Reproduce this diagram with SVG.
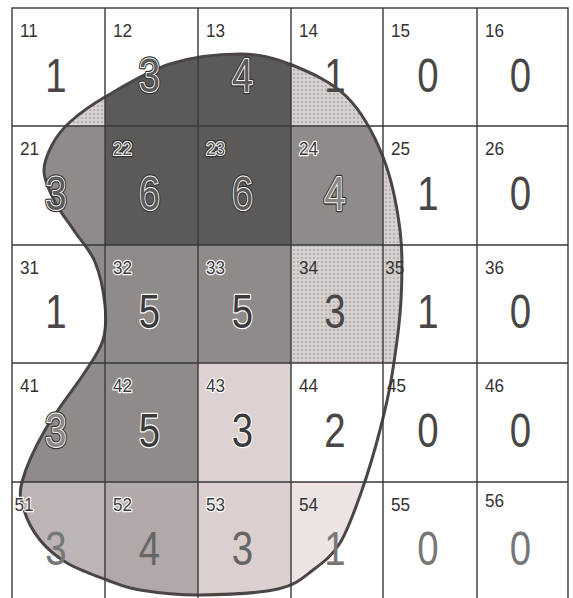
<svg xmlns="http://www.w3.org/2000/svg" width="573" height="598" viewBox="0 0 573 598">
<defs>
<style>
.cell{fill:none;stroke:#3a3838;stroke-width:1.4}
.id{font-family:"Liberation Sans",Arial,sans-serif;font-size:19px;fill:#333}
.v{font-family:"Liberation Sans",Arial,sans-serif;font-size:48px;fill:#484646;text-anchor:middle}
.halo{fill:#3c3a3a;stroke:#fff;stroke-width:2.4;paint-order:stroke;stroke-linejoin:round}
.hb{fill:none;stroke:#333;stroke-width:4.6;stroke-linejoin:round}
.hf{fill:#5c5a5a;stroke:#fff;stroke-width:2;paint-order:stroke;stroke-linejoin:round}
.blob{fill:none;stroke:#4a4646;stroke-width:3}
</style>
<pattern id="dots" patternUnits="userSpaceOnUse" width="4" height="4">
<rect width="4" height="4" fill="#d8d4d3"/>
<circle cx="2" cy="2" r="1.3" fill="#b9b4b3"/>
</pattern>
<clipPath id="blobclip">
<path id="blobpath" d="M240 54 C260.3 54.2 274.2 57.8 292 65 C309.8 72.2 331.8 81.7 347 97 C362.2 112.3 374.2 134.8 383 157 C391.8 179.2 397 206.2 400 230 C403 253.8 402.3 275.8 401 300 C399.7 324.2 395.5 353.3 392 375 C388.5 396.7 385 410.8 380 430 C375 449.2 368.7 471.2 362 490 C355.3 508.8 348.2 529.7 340 543 C331.8 556.3 323.3 562.3 313 570 C302.7 577.7 296.8 584.8 278 589 C259.2 593.2 223 594.8 200 595 C177 595.2 155.5 592.5 140 590 C124.5 587.5 119.2 584.5 107 580 C94.8 575.5 78.2 569.7 67 563 C55.8 556.3 47.2 548.8 40 540 C32.8 531.2 27 519.7 24 510 C21 500.3 18.5 495.3 22 482 C25.5 468.7 34.5 448.3 45 430 C55.5 411.7 75.3 387 85 372 C94.7 357 99.7 351.2 103 340 C106.3 328.8 106.3 318 105 305 C103.7 292 100 274.2 95 262 C90 249.8 81.7 242 75 232 C68.3 222 60.2 212 55 202 C49.8 192 44.5 181.5 44 172 C43.5 162.5 47.7 153.3 52 145 C56.3 136.7 61.2 130 70 122 C78.8 114 88.3 106.7 105 97 C121.7 87.3 147.5 71.2 170 64 C192.5 56.8 219.7 54 240 54 Z"/>
</clipPath>
</defs>
<rect width="573" height="598" fill="#fff"/>
<g id="shading" clip-path="url(#blobclip)">
<rect x="12" y="8" width="93" height="118" fill="url(#dots)"/>
<rect x="105" y="8" width="186" height="237" fill="#5c5a59"/>
<rect x="291" y="8" width="92" height="118" fill="url(#dots)"/>
<rect x="12" y="126" width="93" height="119" fill="#8e8b8a"/>
<rect x="291" y="126" width="92" height="119" fill="#8e8b8a"/>
<rect x="383" y="126" width="94" height="119" fill="url(#dots)"/>
<rect x="12" y="245" width="279" height="118" fill="#8e8b8a"/>
<rect x="291" y="245" width="186" height="118" fill="url(#dots)"/>
<rect x="12" y="363" width="186" height="119" fill="#8e8b8a"/>
<rect x="198" y="363" width="93" height="119" fill="#ddd1d1"/>
<rect x="12" y="482" width="93" height="118" fill="#bdb5b5"/>
<rect x="105" y="482" width="93" height="118" fill="#b1a9a9"/>
<rect x="198" y="482" width="93" height="118" fill="#dccfcf"/>
<rect x="291" y="482" width="92" height="118" fill="#ede3e3"/>
</g>
<g id="connectors">
<use href="#blobpath" class="blob"/>
</g>
<g id="grid">
<rect class="cell" x="12" y="8" width="556" height="600"/>
<path class="cell" d="M105 8V598M198 8V598M291 8V598M383 8V598M477 8V598M12 126H568M12 245H568M12 363H568M12 482H568"/>
</g>
<g id="ids" transform="scale(0.9 1)">
<g id="id-row1"><text class="id" x="22.2" y="37">11</text><text class="id" x="125.6" y="37">12</text><text class="id" x="228.9" y="37">13</text><text class="id" x="332.2" y="37">14</text><text class="id" x="434.4" y="37">15</text><text class="id" x="538.9" y="37">16</text></g>
<g id="id-row2"><text class="id" x="22.2" y="155">21</text><text class="id hb" x="125.6" y="155">22</text><text class="id hf" x="125.6" y="155">22</text><text class="id hb" x="228.9" y="155">23</text><text class="id hf" x="228.9" y="155">23</text><text class="id halo" x="332.2" y="155">24</text><text class="id" x="434.4" y="155">25</text><text class="id" x="538.9" y="155">26</text></g>
<g id="id-row3"><text class="id" x="22.2" y="274">31</text><text class="id halo" x="125.6" y="274">32</text><text class="id halo" x="228.9" y="274">33</text><text class="id" x="332.2" y="274">34</text><text class="id" x="428" y="274">35</text><text class="id" x="538.9" y="274">36</text></g>
<g id="id-row4"><text class="id" x="22.2" y="392">41</text><text class="id halo" x="125.6" y="392">42</text><text class="id halo" x="228.9" y="392">43</text><text class="id" x="332.2" y="392">44</text><text class="id" x="430" y="392">45</text><text class="id" x="538.9" y="392">46</text></g>
<g id="id-row5"><text class="id halo" x="16" y="511">51</text><text class="id halo" x="125.6" y="511">52</text><text class="id halo" x="228.9" y="511">53</text><text class="id" x="332.2" y="511">54</text><text class="id" x="434.4" y="511">55</text><text class="id" x="538.9" y="507">56</text></g>
</g>
<g id="values" transform="scale(0.8 1)">
<g id="val-row1">
<text class="v" x="70" y="92">1</text>
<text class="v hb" x="186.9" y="92">3</text><text class="v hf" x="186.9" y="92">3</text>
<text class="v hb" x="303.1" y="92">4</text><text class="v hf" x="303.1" y="92">4</text>
<text class="v" x="418.8" y="92">1</text>
<text class="v" x="535" y="92">0</text>
<text class="v" x="650.6" y="92">0</text>
</g>
<g id="val-row2">
<text class="v hb" x="70" y="210">3</text><text class="v hf" x="70" y="210">3</text>
<text class="v hb" x="186.9" y="210">6</text><text class="v hf" x="186.9" y="210">6</text>
<text class="v hb" x="303.1" y="210">6</text><text class="v hf" x="303.1" y="210">6</text>
<text class="v hb" x="418.8" y="210">4</text><text class="v hf" x="418.8" y="210" style="fill:#8a8786">4</text>
<text class="v" x="535" y="210">1</text>
<text class="v" x="650.6" y="210">0</text>
</g>
<g id="val-row3">
<text class="v" x="70" y="328">1</text>
<text class="v halo" x="186.9" y="328">5</text>
<text class="v halo" x="303.1" y="328">5</text>
<text class="v" x="418.8" y="328">3</text>
<text class="v" x="535" y="328">1</text>
<text class="v" x="650.6" y="328">0</text>
</g>
<g id="val-row4">
<text class="v hb" x="70" y="447">3</text><text class="v hf" x="70" y="447" style="fill:#8a8786">3</text>
<text class="v halo" x="186.9" y="447">5</text>
<text class="v halo" x="303.1" y="447">3</text>
<text class="v" x="418.8" y="447">2</text>
<text class="v" x="535" y="447">0</text>
<text class="v" x="650.6" y="447">0</text>
</g>
<g id="val-row5">
<text class="v" x="70" y="565" style="fill:#777">3</text>
<text class="v" x="186.9" y="565" style="fill:#666">4</text>
<text class="v" x="303.1" y="565" style="fill:#666">3</text>
<text class="v" x="418.8" y="565" style="fill:#777">1</text>
<text class="v" x="535" y="565" style="fill:#777">0</text>
<text class="v" x="650.6" y="565" style="fill:#777">0</text>
</g>
</g>
</svg>
